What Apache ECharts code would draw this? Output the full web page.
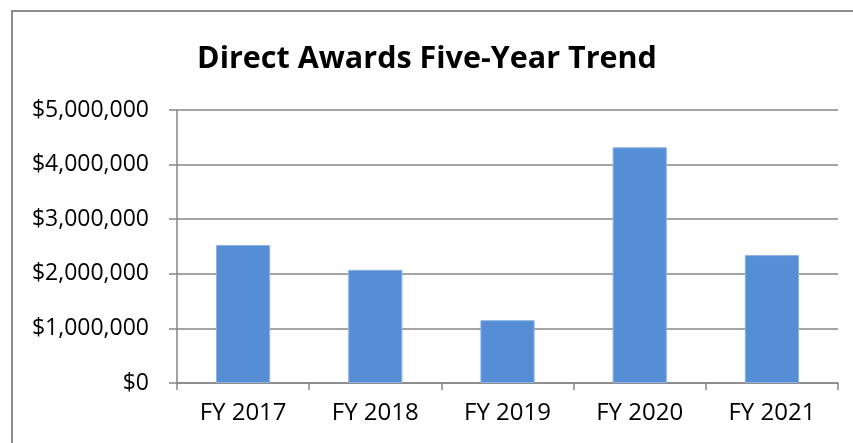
<!DOCTYPE html>
<html>
<head>
<meta charset="utf-8">
<script src="https://cdn.jsdelivr.net/npm/echarts@6/dist/echarts.min.js"></script>
<style>
html,body{margin:0;padding:0;background:#fff;}
#chart{width:853px;height:443px;}
</style>
</head>
<body>
<div id="chart"></div>
<script>
const title = 'Direct Awards Five-Year Trend';
const categories = ['FY 2017', 'FY 2018', 'FY 2019', 'FY 2020', 'FY 2021'];
const awards = [2527000, 2073000, 1150000, 4317000, 2343000];
const yMin = 0, yMax = 5000000, yStep = 1000000;

const chart = echarts.init(document.getElementById('chart'));
const font = 'Open Sans';
chart.setOption({
  animation: false,
  backgroundColor: '#ffffff',
  graphic: [{
    type: 'rect',
    shape: {x: 12, y: 11, width: 1000, height: 600},
    style: {fill: 'none', stroke: '#8c8c8c', lineWidth: 2},
    silent: true
  }],
  title: {
    text: title,
    left: 422, top: 39, textAlign: 'center',
    textStyle: {fontFamily: font, fontWeight: 'bold', fontSize: 30.5, color: '#000'}
  },
  grid: {left: 177, right: 15, top: 110, bottom: 60, containLabel: false},
  xAxis: {
    type: 'category',
    data: categories,
    axisLine: {lineStyle: {color: '#868686', width: 1.5}},
    axisTick: {show: true, length: 7, alignWithLabel: false, lineStyle: {color: '#868686', width: 1.5}},
    axisLabel: {fontFamily: font, fontSize: 24, color: '#000', margin: 18}
  },
  yAxis: {
    type: 'value',
    min: yMin, max: yMax, interval: yStep,
    axisLine: {show: true, lineStyle: {color: '#868686', width: 1.5}},
    axisTick: {show: true, length: 8, lineStyle: {color: '#868686', width: 1.5}},
    splitLine: {lineStyle: {color: '#868686', width: 1.5}},
    axisLabel: {
      fontFamily: font, fontSize: 23, color: '#000', margin: 28,
      formatter: v => '$' + v.toLocaleString('en-US')
    }
  },
  series: [{
    type: 'bar',
    data: awards,
    barWidth: '41%',
    itemStyle: {color: '#558ed5', borderColor: '#8fb3e3', borderWidth: 1}
  }]
});
</script>
</body>
</html>
